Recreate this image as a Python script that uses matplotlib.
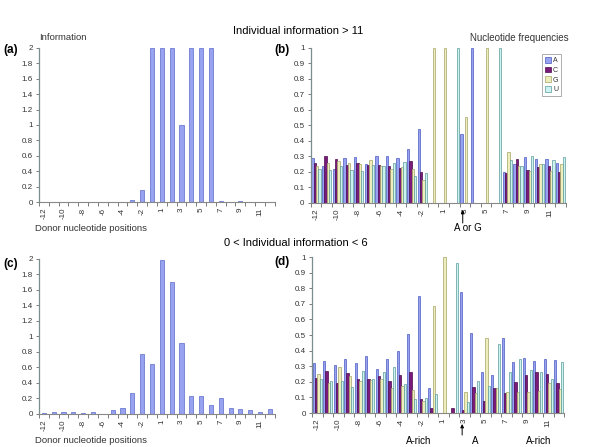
import numpy as np
import matplotlib
matplotlib.use('Agg')
import matplotlib.pyplot as plt

matplotlib.rcParams['font.family'] = ['Liberation Sans', 'DejaVu Sans']

positions = ['-12', '-11', '-10', '-9', '-8', '-7', '-6', '-5', '-4', '-3', '-2', '-1',
             '1', '2', '3', '4', '5', '6', '7', '8', '9', '10', '11', '12']

# information content, individual information > 11
info_high = [0, 0, 0, 0, 0, 0.005, 0, 0, 0, 0.03, 0.16, 2.0,
             2.0, 2.0, 1.0, 2.0, 2.0, 2.0, 0.02, 0.005, 0.01, 0.005, 0, 0]
# information content, 0 < individual information < 6
info_low = [0.01, 0.02, 0.02, 0.03, 0.01, 0.03, 0.0, 0.05, 0.07, 0.27, 0.77, 0.65,
            1.99, 1.70, 0.91, 0.23, 0.23, 0.12, 0.20, 0.07, 0.06, 0.05, 0.02, 0.06]

# nucleotide frequencies, individual information > 11
freq_high_A = [0.29, 0.24, 0.22, 0.29, 0.295, 0.25, 0.30, 0.30, 0.29, 0.345, 0.475, 0,
               0, 0, 0.445, 1.0, 0, 0, 0.20, 0.25, 0.295, 0.285, 0.285, 0.26]
freq_high_C = [0.26, 0.30, 0.285, 0.245, 0.26, 0.245, 0.245, 0.24, 0.225, 0.27, 0.20, 0,
               0, 0, 0, 0, 0, 0, 0.195, 0.285, 0.21, 0.23, 0.24, 0.20]
freq_high_G = [0.24, 0.26, 0.27, 0.26, 0.25, 0.275, 0.235, 0.22, 0.23, 0.22, 0.15, 1.0,
               1.0, 0, 0.555, 0, 1.0, 0, 0.33, 0.24, 0.205, 0.25, 0.205, 0.25]
freq_high_U = [0.22, 0.21, 0.235, 0.215, 0.205, 0.245, 0.235, 0.255, 0.265, 0.175, 0.19, 0,
               0, 1.0, 0, 0, 0, 1.0, 0.28, 0.24, 0.30, 0.25, 0.28, 0.295]

# nucleotide frequencies, 0 < individual information < 6
freq_low_A = [0.32, 0.335, 0.31, 0.345, 0.32, 0.365, 0.285, 0.345, 0.40, 0.505, 0.75, 0.16,
              0, 0, 0.775, 0.51, 0.265, 0.245, 0.48, 0.325, 0.35, 0.335, 0.345, 0.34]
freq_low_C = [0.225, 0.27, 0.195, 0.255, 0.215, 0.22, 0.235, 0.205, 0.245, 0.265, 0.09, 0.035,
              0, 0.03, 0.02, 0.165, 0.08, 0.16, 0.13, 0.20, 0.245, 0.26, 0.25, 0.19]
freq_low_G = [0.25, 0.19, 0.295, 0.235, 0.205, 0.21, 0.22, 0.16, 0.175, 0.145, 0.08, 0.685,
              1.0, 0, 0.135, 0.13, 0.48, 0.16, 0.135, 0.135, 0.135, 0.14, 0.19, 0.155]
freq_low_U = [0.215, 0.205, 0.205, 0.17, 0.27, 0.215, 0.265, 0.295, 0.185, 0.09, 0.095, 0.12,
              0, 0.96, 0.07, 0.205, 0.175, 0.44, 0.26, 0.345, 0.275, 0.265, 0.22, 0.325]

nucleotides = ['A', 'C', 'G', 'U']
fill_colors = ['#97a2f0', '#7a1a7a', '#eeeebc', '#cdf2f2']
edge_colors = ['#4a5ac0', '#4a0a4a', '#a4a468', '#5a9a9a']

info_color, info_edge = '#97a2f0', '#5b6bc8'
tick_color = '#333333'
spine_color = '#7a8e8e'
tick_label_size = 5.8

fig = plt.figure(figsize=(6, 4.47), dpi=100)
ax_a = fig.add_axes([0.065, 0.548, 0.393, 0.345])
ax_b = fig.add_axes([0.518, 0.546, 0.425, 0.347])
ax_c = fig.add_axes([0.065, 0.074, 0.393, 0.347])
ax_d = fig.add_axes([0.520, 0.076, 0.420, 0.349])

x = np.arange(len(positions))


def style_axis(ax, ymax, ystep):
  ax.set_xlim(-0.5, len(positions) - 0.5)
  ax.set_ylim(0, ymax)
  yt = np.round(np.arange(0, ymax + ystep / 2, ystep), 2)
  ax.set_yticks(yt)
  ax.set_yticklabels(['%g' % v for v in yt])
  ax.set_xticks(x[::2])
  ax.set_xticklabels(positions[::2], rotation=90)
  ax.set_xticks(np.arange(-0.5, len(positions), 1), minor=True)
  ax.tick_params(axis='x', which='major', length=0, pad=4, labelsize=tick_label_size, labelcolor=tick_color)
  ax.tick_params(axis='x', which='minor', length=3, width=0.6, color='#666666', direction='out')
  ax.tick_params(axis='y', which='major', length=2.5, width=0.6, color='#666666', direction='out',
                 labelsize=tick_label_size, labelcolor=tick_color, pad=2)
  for s in ['top', 'right']:
    ax.spines[s].set_visible(False)
  ax.spines['left'].set_color(spine_color)
  ax.spines['bottom'].set_color('#888888')
  ax.spines['left'].set_linewidth(0.9)
  ax.spines['bottom'].set_linewidth(0.8)


# information panels
for ax, info in [(ax_a, info_high), (ax_c, info_low)]:
  ax.bar(x, info, width=0.42, color=info_color, edgecolor=info_edge, linewidth=0.5, zorder=2)
  style_axis(ax, 2, 0.2)

# nucleotide frequency panels
bar_w = 0.22
offsets = [-1.5 * bar_w, -0.5 * bar_w, 0.5 * bar_w, 1.5 * bar_w]
for ax, freqs in [(ax_b, [freq_high_A, freq_high_C, freq_high_G, freq_high_U]),
                  (ax_d, [freq_low_A, freq_low_C, freq_low_G, freq_low_U])]:
  for k in range(4):
    ax.bar(x + offsets[k], freqs[k], width=bar_w, color=fill_colors[k], edgecolor=edge_colors[k],
           linewidth=0.5, label=nucleotides[k], zorder=2)
  style_axis(ax, 1, 0.1)

leg = ax_b.legend(loc='upper right', bbox_to_anchor=(0.995, 0.98), fontsize=5, frameon=True, fancybox=False,
                  handlelength=0.9, handleheight=0.9, handletextpad=0.3, labelspacing=0.35, borderpad=0.35)
leg.get_frame().set_edgecolor('#888888')
leg.get_frame().set_linewidth(0.6)
for t in leg.get_texts():
  t.set_color(tick_color)

# texts
fig.text(0.497, 0.931, 'Individual information > 11', ha='center', va='center', fontsize=8)
fig.text(0.493, 0.456, '0 < Individual information < 6', ha='center', va='center', fontsize=8)
fig.text(0.065, 0.917, 'Information', ha='left', va='center', fontsize=6.8, color=tick_color)
fig.text(0.948, 0.915, 'Nucleotide frequencies', ha='right', va='center', fontsize=7, color=tick_color)
fig.text(0.058, 0.488, 'Donor nucleotide positions', ha='left', va='center', fontsize=6.8, color=tick_color)
fig.text(0.058, 0.014, 'Donor nucleotide positions', ha='left', va='center', fontsize=6.8, color=tick_color)
fig.text(0.006, 0.888, '(a)', ha='left', va='center', fontsize=8.5, fontweight='bold')
fig.text(0.458, 0.888, '(b)', ha='left', va='center', fontsize=8.5, fontweight='bold')
fig.text(0.006, 0.409, '(c)', ha='left', va='center', fontsize=8.5, fontweight='bold')
fig.text(0.458, 0.414, '(d)', ha='left', va='center', fontsize=8.5, fontweight='bold')

fig.text(0.780, 0.490, 'A or G', ha='center', va='center', fontsize=7)
fig.text(0.697, 0.013, 'A-rich', ha='center', va='center', fontsize=7)
fig.text(0.792, 0.013, 'A', ha='center', va='center', fontsize=7)
fig.text(0.897, 0.013, 'A-rich', ha='center', va='center', fontsize=7)

# arrows at position +3
idx3 = positions.index('3')
arrow_props = dict(arrowstyle='-|>', color='black', lw=0.7, mutation_scale=5, shrinkA=0, shrinkB=0)
ax_b.annotate('', xy=(idx3 - 0.2, 1 - 210 / 447.), xycoords=('data', 'figure fraction'),
              xytext=(idx3 - 0.2, 1 - 223 / 447.), textcoords=('data', 'figure fraction'),
              arrowprops=arrow_props, annotation_clip=False)
ax_d.annotate('', xy=(idx3 - 0.2, 1 - 424 / 447.), xycoords=('data', 'figure fraction'),
              xytext=(idx3 - 0.2, 1 - 435 / 447.), textcoords=('data', 'figure fraction'),
              arrowprops=arrow_props, annotation_clip=False)

fig.savefig('out.png', dpi=100, facecolor='white')
